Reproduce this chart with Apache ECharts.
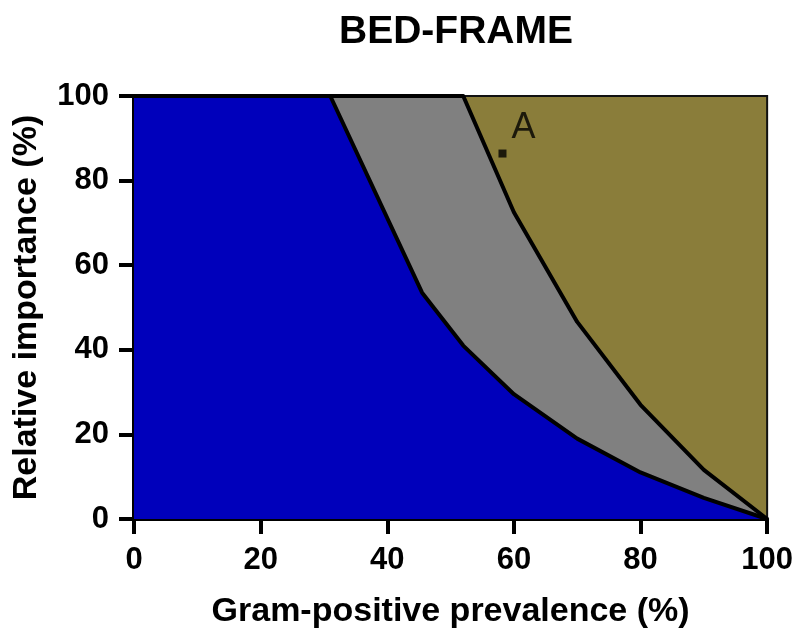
<!DOCTYPE html>
<html>
<head>
<meta charset="utf-8">
<script src="https://cdn.jsdelivr.net/npm/echarts@6/dist/echarts.min.js"></script>
<style>html,body{margin:0;padding:0;background:#fff}#c{width:796px;height:635px}</style>
</head>
<body>
<div id="c"></div>
<script>
var title = "BED-FRAME";
var xName = "Gram-positive prevalence (%)";
var yName = "Relative importance (%)";
var xTicks = [0, 20, 40, 60, 80, 100];
var yTicks = [0, 20, 40, 60, 80, 100];
// lower boundary (blue region below)
var lowerX = [0, 31, 45.5, 52, 60, 70, 80, 90, 100];
var lowerY = [100, 100, 53.5, 41, 29.5, 19, 11, 5, 0];
// upper boundary (grey region below, olive above)
var upperX = [0, 52, 60, 70, 80, 90, 100];
var upperY = [100, 100, 72.5, 46.6, 27, 11.6, 0];
// point A
var pointA = [58.2, 86.4];
var pointLabel = "A";

function pairs(xs, ys){ return xs.map(function(x,i){ return [x, ys[i]]; }); }

var FONT = "Liberation Sans";
var chart = echarts.init(document.getElementById('c'), null, {renderer:'canvas'});
chart.setOption({
  animation: false,
  backgroundColor: '#fff',
  title: {
    text: title, left: 451, top: 8, textAlign: 'center',
    textStyle: {fontFamily: FONT, fontWeight: 'bold', fontSize: 39, color: '#000'}
  },
  grid: {
    left: 134, right: 27, top: 96, bottom: 116,
    show: true, backgroundColor: '#8a7d3a', borderColor: '#111', borderWidth: 2
  },
  xAxis: {
    type: 'value', min: xTicks[0], max: xTicks[xTicks.length-1], interval: 20,
    name: xName, nameLocation: 'middle', nameGap: 76,
    nameTextStyle: {fontFamily: FONT, fontWeight: 'bold', fontSize: 34, color: '#000'},
    axisLine: {show: true, onZero: false, lineStyle: {color: '#000', width: 4}},
    axisTick: {show: true, inside: false, length: 15, lineStyle: {color: '#000', width: 4}},
    axisLabel: {margin: 26, fontFamily: FONT, fontWeight: 'bold', fontSize: 31, color: '#000'},
    splitLine: {show: false}
  },
  yAxis: {
    type: 'value', min: yTicks[0], max: yTicks[yTicks.length-1], interval: 20,
    name: yName, nameLocation: 'middle', nameGap: 90,
    nameTextStyle: {fontFamily: FONT, fontWeight: 'bold', fontSize: 34, color: '#000'},
    axisLine: {show: true, onZero: false, lineStyle: {color: '#000', width: 4}},
    axisTick: {show: true, inside: false, length: 15, lineStyle: {color: '#000', width: 4}},
    axisLabel: {margin: 25, fontFamily: FONT, fontWeight: 'bold', fontSize: 31, color: '#000'},
    splitLine: {show: false}
  },
  series: [
    {
      type: 'line', data: pairs(upperX, upperY), symbol: 'none', z: 2,
      lineStyle: {color: '#000', width: 4, join: 'round'},
      areaStyle: {color: '#808080', opacity: 1}
    },
    {
      type: 'line', data: pairs(lowerX, lowerY), symbol: 'none', z: 3,
      lineStyle: {color: '#000', width: 4, join: 'round'},
      areaStyle: {color: '#0000bb', opacity: 1}
    },
    {
      type: 'scatter', data: [pointA], symbol: 'rect', symbolSize: 8, z: 5,
      itemStyle: {color: '#000'},
      label: {show: true, formatter: pointLabel, position: [13, -39],
        fontFamily: FONT, fontSize: 36, color: '#000'}
    }
  ]
});
</script>
</body>
</html>
